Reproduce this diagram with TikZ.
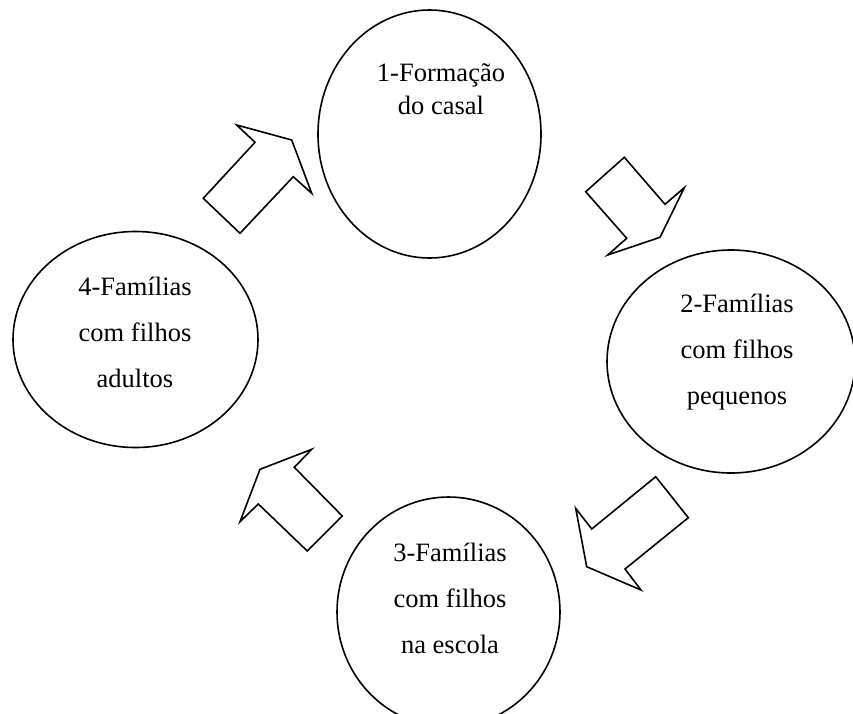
\documentclass[tikz,border=0pt]{standalone}
\usepackage{fontspec}
\setmainfont{Liberation Serif}
\usetikzlibrary{shapes.geometric}
\begin{document}
\begin{tikzpicture}[x=1pt,y=-1pt,
  stage/.style={ellipse,draw,line width=1.6pt,inner sep=0pt},
  stagetext/.style={align=center,inner sep=0pt,font=\fontsize{26.5}{46}\selectfont},
  blockarrow/.style={draw,line width=1.6pt,line join=miter,fill=white}]
\useasboundingbox (0,0) rectangle (853,713);
% stages
\node[stage,minimum width=223pt,minimum height=248pt] (c1) at (429.5,134) {};
\node[stage,minimum width=248pt,minimum height=223pt] (c2) at (731,361.5) {};
\node[stage,minimum width=223pt,minimum height=230pt] (c3) at (448.5,612) {};
\node[stage,minimum width=245pt,minimum height=216pt] (c4) at (135.5,339.5) {};
% texts
\node[stagetext,font=\fontsize{26.5}{33}\selectfont] (t1) at (441,89.5) {1-Formação\\do casal};
\node[stagetext] (t2) at (737,352.5) {2-Famílias\\com filhos\\pequenos};
\node[stagetext] (t3) at (450,598.5) {3-Famílias\\com filhos\\na escola};
\node[stagetext] (t4) at (135,332) {4-Famílias\\com filhos\\adultos};
% block arrows
\draw[blockarrow] (236.7,125) -- (291.7,140) -- (311.7,193.3) -- (293.3,176.7) -- (240,233.3) -- (203.3,198.3) -- (255,142.3) -- cycle;
\draw[blockarrow] (624.3,157.3) -- (585.7,191.7) -- (626.7,238.3) -- (607.7,255) -- (660,237.3) -- (684.3,187.7) -- (665,204.3) -- cycle;
\draw[blockarrow] (655.7,476.7) -- (688.3,517.7) -- (625,569) -- (641,590) -- (586.7,566.7) -- (575.7,508.3) -- (591.7,529) -- cycle;
\draw[blockarrow] (311.7,449.3) -- (294.3,467.3) -- (342.3,516) -- (307.3,551) -- (258.3,504) -- (240,521.7) -- (260,469.3) -- cycle;
\end{tikzpicture}
\end{document}
